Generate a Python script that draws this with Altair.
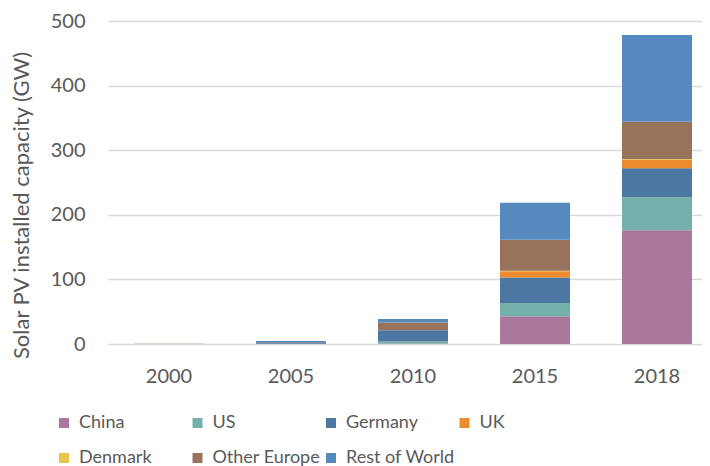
import altair as alt
import pandas as pd

years = ["2000", "2005", "2010", "2015", "2018"]
series = ["China", "US", "Germany", "UK", "Denmark", "Other Europe", "Rest of World"]
colors = ["#AA789C", "#75B1AA", "#4C77A2", "#EC8C2E", "#E6C54A", "#98735C", "#568ABF"]

china = [0.02, 0.07, 0.9, 43.0, 176.0]
us = [0.05, 0.5, 2.9, 20.5, 51.0]
germany = [0.1, 2.0, 17.4, 39.5, 45.0]
uk = [0.002, 0.01, 0.1, 9.5, 13.5]
denmark = [0.001, 0.003, 0.01, 0.8, 1.0]
other_europe = [0.05, 0.4, 12.0, 48.0, 57.5]
rest_of_world = [0.3, 1.7, 5.5, 57.5, 134.5]

values = [china, us, germany, uk, denmark, other_europe, rest_of_world]
rows = []
for si, (s, vals) in enumerate(zip(series, values)):
    for y, v in zip(years, vals):
        rows.append({"year": y, "series": s, "value": v, "order": si})
df = pd.DataFrame(rows)

FONT = "Lato"
TXT = "#595959"

chart = alt.Chart(df).mark_bar().encode(
    x=alt.X("year:N", sort=years,
            scale=alt.Scale(range=[0, 610], paddingInner=0.426, paddingOuter=0.213),
            axis=alt.Axis(title=None, labelAngle=0, ticks=False, domain=False,
                          labelFontSize=20, labelColor=TXT, labelFont=FONT,
                          labelPadding=22)),
    y=alt.Y("value:Q", stack="zero",
            scale=alt.Scale(domain=[0, 500], nice=False),
            axis=alt.Axis(title="Solar PV installed capacity (GW)",
                          values=[0, 100, 200, 300, 400, 500],
                          ticks=False, domain=False, grid=True,
                          gridColor="#D9D9D9", gridWidth=1.5,
                          labelFontSize=20, labelColor=TXT, labelFont=FONT,
                          labelPadding=23,
                          titleFontSize=22, titleColor=TXT, titleFont=FONT,
                          titleFontWeight="normal", titleAngle=270,
                          titleX=-80, titleY=184, titleAlign="center",
                          titleBaseline="alphabetic")),
    color=alt.Color("series:N", sort=series,
                    scale=alt.Scale(domain=series, range=colors),
                    legend=alt.Legend(title=None, orient="none", legendX=-53, legendY=393,
                                      direction="horizontal",
                                      columns=4, gridAlign="all", columnPadding=0.5,
                                      rowPadding=17, symbolType="square", symbolSize=100,
                                      symbolStrokeWidth=0, labelFontSize=18,
                                      labelColor=TXT, labelFont=FONT, labelOffset=6)),
    order=alt.Order("order:Q", sort="ascending"),
).properties(
    width=594, height=323,
    autosize=alt.AutoSizeParams(type="none"),
    padding={"left": 100, "top": 13, "right": 0, "bottom": 122},
).configure_view(stroke=None)

chart.save("out.html", embed_options={"renderer": "svg", "actions": False})
